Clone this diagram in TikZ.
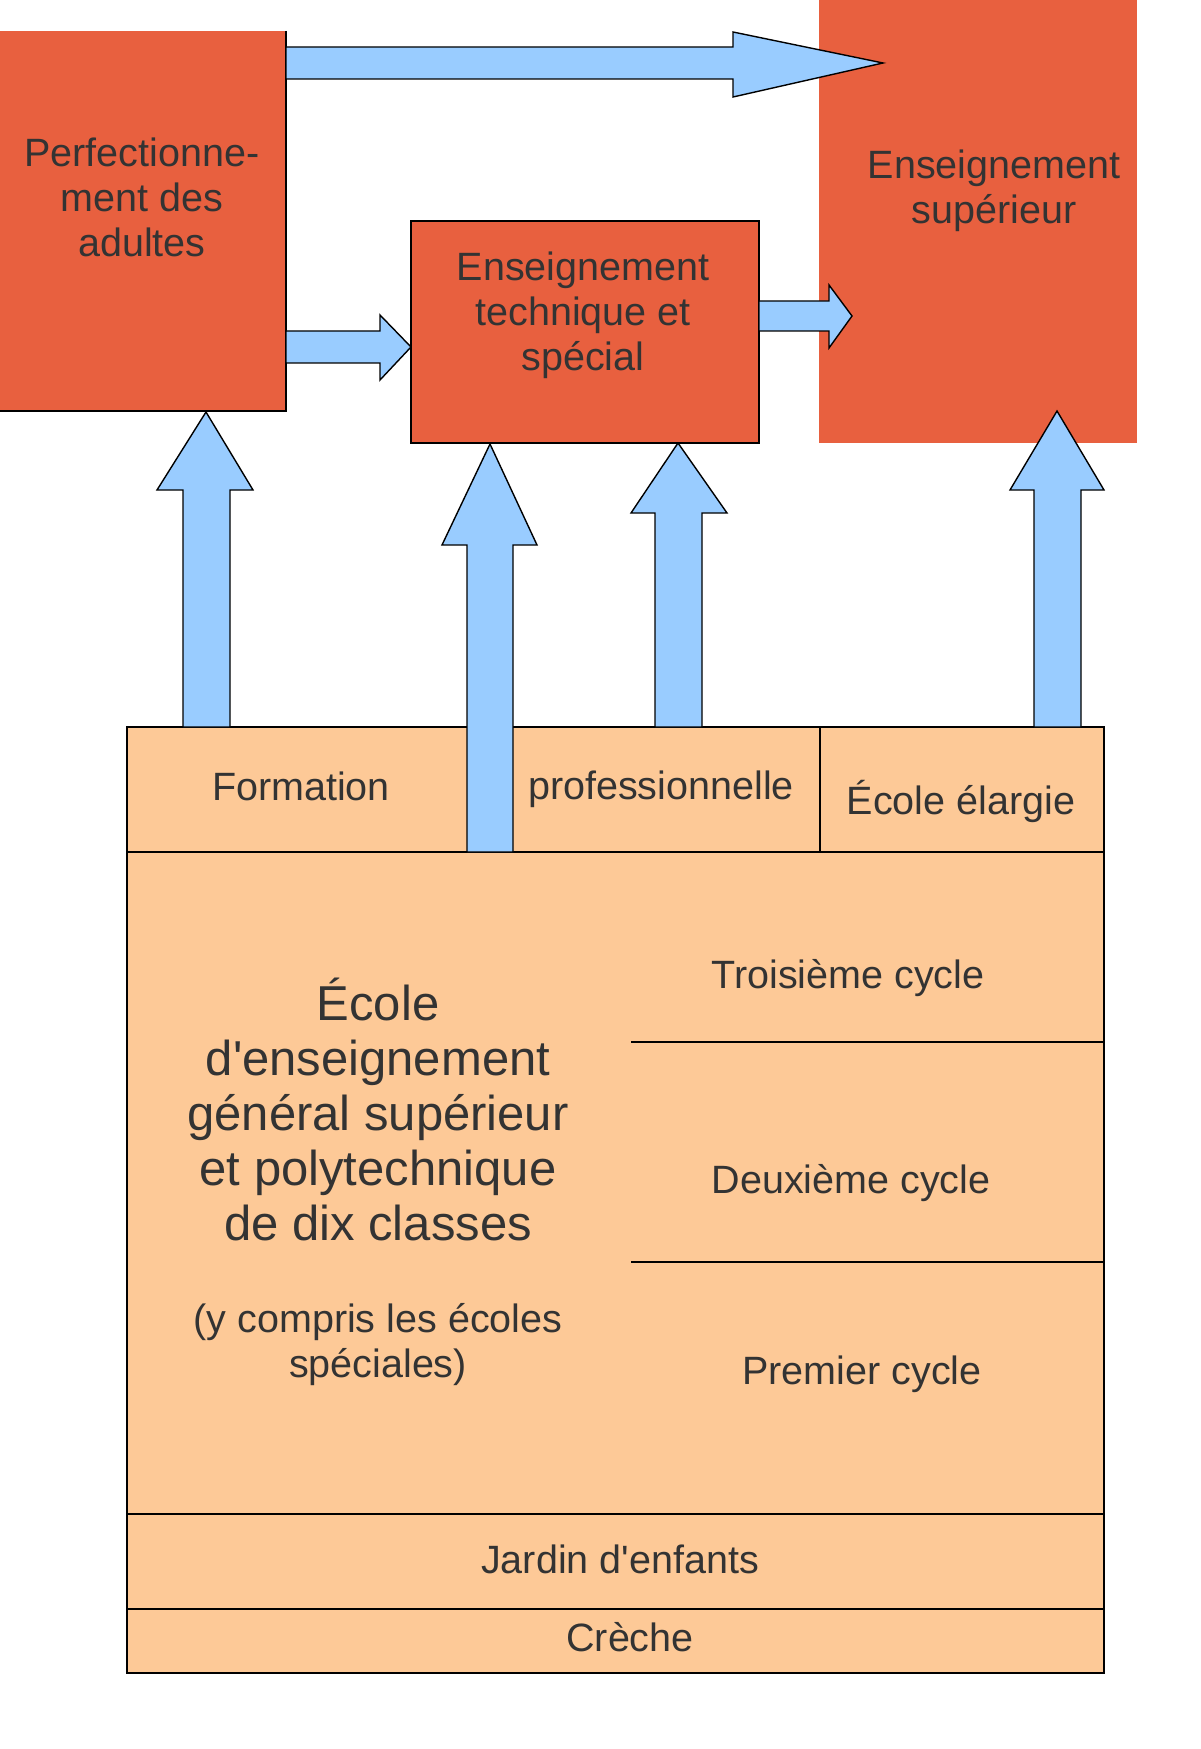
\documentclass[tikz,border=0pt]{standalone}
\usepackage{fontspec}
\setmainfont{Liberation Sans}[Ligatures=TeXOff]
\definecolor{redbox}{HTML}{E8603F}
\definecolor{peach}{HTML}{FDC997}
\definecolor{arrowblue}{HTML}{99CCFF}
\definecolor{txt}{HTML}{333333}
\tikzset{
  lbl/.style={text=txt, align=center, inner sep=0pt, font=\fontsize{19.75}{22.5}\selectfont},
  biglbl/.style={text=txt, align=center, inner sep=0pt, font=\fontsize{24.5}{27.5}\selectfont},
  blockarrow/.style={fill=arrowblue, draw=black, line width=0.7pt, line join=miter},
  rule/.style={draw=black, line width=0.7pt},
  redfill/.style={fill=redbox, draw=none, inner sep=0pt, outer sep=0pt},
}
\begin{document}
\begin{tikzpicture}[x=0.5pt, y=-0.5pt]
\useasboundingbox (0,0) rectangle (1200,1749);
% red boxes
\node[redfill, minimum width=318*0.5pt, minimum height=443*0.5pt] (S) at (978,221.5) {};
\node[redfill, minimum width=286*0.5pt, minimum height=380*0.5pt] (P) at (143,221) {};
\draw[rule] (P.north east) -- (P.south east) -- (P.south west);
\node[redfill, draw=black, line width=0.8pt, minimum width=348*0.5pt, minimum height=222*0.5pt] (T) at (585,332) {};
% table
\node[fill=peach, draw=black, line width=0.7pt, inner sep=0pt, minimum width=977*0.5pt, minimum height=946*0.5pt] (tab) at (615.5,1200) {};
\coordinate (r1l) at (127,852);  \coordinate (r1r) at (1104,852);
\coordinate (v1t) at (820,727);  \coordinate (v1b) at (820,852);
\coordinate (c3l) at (631,1042); \coordinate (c3r) at (1104,1042);
\coordinate (c2l) at (631,1262); \coordinate (c2r) at (1104,1262);
\coordinate (jl) at (127,1514);  \coordinate (jr) at (1104,1514);
\coordinate (kl) at (127,1609);  \coordinate (kr) at (1104,1609);
\draw[rule] (r1l) -- (r1r);
\draw[rule] (v1t) -- (v1b);
\draw[rule] (c3l) -- (c3r);
\draw[rule] (c2l) -- (c2r);
\draw[rule] (jl) -- (jr);
\draw[rule] (kl) -- (kr);
% horizontal block arrows
\draw[blockarrow] (286,47) -- (733,47) -- (733,32) -- (883,63) -- (733,97) -- (733,79) -- (286,79) -- cycle;
\draw[blockarrow] (286,331) -- (380,331) -- (380,315) -- (411,347) -- (380,380) -- (380,363) -- (286,363) -- cycle;
\draw[blockarrow] (759,301) -- (829,301) -- (829,285) -- (852,316) -- (829,348) -- (829,331) -- (759,331) -- cycle;
% vertical block arrows
\draw[blockarrow] (183,727) -- (183,490) -- (157,490) -- (206,412) -- (253,490) -- (230,490) -- (230,727) -- cycle;
\draw[blockarrow] (467,852) -- (467,545) -- (442,545) -- (490,444) -- (537,545) -- (513,545) -- (513,852) -- cycle;
\draw[blockarrow] (655,727) -- (655,513) -- (631,513) -- (678,443) -- (727,513) -- (702,513) -- (702,727) -- cycle;
\draw[blockarrow] (1034,727) -- (1034,490) -- (1010,490) -- (1057,411) -- (1104,490) -- (1081,490) -- (1081,727) -- cycle;
% labels
\node[lbl] (tP) at (142,197) {Perfectionne-\\ment des\\adultes};
\node[lbl] (tT) at (583,315) {Enseignement\\technique et\\spécial};
\node[lbl] (tS) at (994,191) {Enseignement\\supérieur};
\node[lbl] (tF) at (301,786) {Formation};
\node[lbl] (tPr) at (661,789) {professionnelle};
\node[lbl] (tE) at (961,801) {École élargie};
\node[biglbl] (tM) at (378,1109.5) {École\\d'enseignement\\général supérieur\\et polytechnique\\de dix classes};
\node[lbl] (tY) at (378,1344.5) {(y compris les écoles\\spéciales)};
\node[lbl] (t3) at (848,978) {Troisième cycle};
\node[lbl] (t2) at (851,1183) {Deuxième cycle};
\node[lbl] (t1) at (862,1374) {Premier cycle};
\node[lbl] (tJ) at (620,1559) {Jardin d'enfants};
\node[lbl] (tC) at (630,1637) {Crèche};
\end{tikzpicture}
\end{document}
